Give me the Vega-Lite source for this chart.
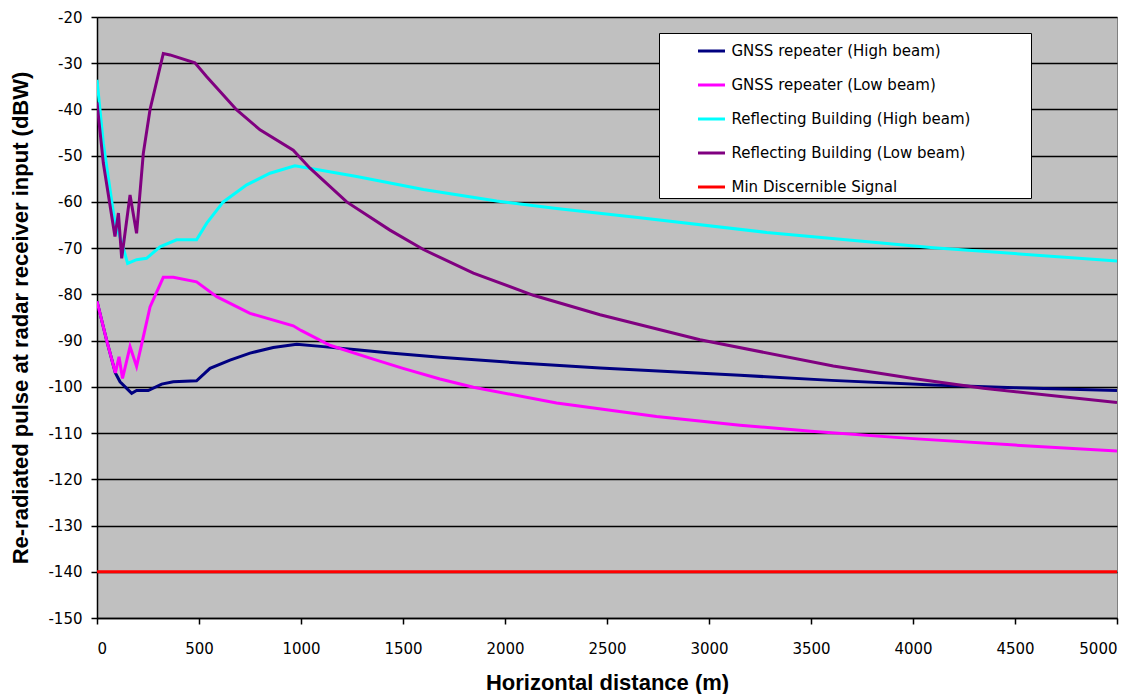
{
  "$schema": "https://vega.github.io/schema/vega-lite/v6.json",
  "autosize": {"type": "none"},
  "padding": {"left": 97, "top": 17, "right": 24, "bottom": 76},
  "width": 1020,
  "height": 601,
  "background": "white",
  "config": {
    "view": {"fill": "#C0C0C0", "stroke": "#808080", "strokeWidth": 1},
    "font": "Liberation Sans"
  },
  "datasets": {
    "curves": [
      {"s": "GNSS repeater (High beam)", "d": 0, "p": -81.5},
      {"s": "GNSS repeater (High beam)", "d": 47, "p": -89.9},
      {"s": "GNSS repeater (High beam)", "d": 90, "p": -97},
      {"s": "GNSS repeater (High beam)", "d": 113, "p": -98.9},
      {"s": "GNSS repeater (High beam)", "d": 170, "p": -101.4},
      {"s": "GNSS repeater (High beam)", "d": 194, "p": -100.8},
      {"s": "GNSS repeater (High beam)", "d": 251, "p": -100.8},
      {"s": "GNSS repeater (High beam)", "d": 317, "p": -99.4},
      {"s": "GNSS repeater (High beam)", "d": 374, "p": -98.9},
      {"s": "GNSS repeater (High beam)", "d": 488, "p": -98.7},
      {"s": "GNSS repeater (High beam)", "d": 554, "p": -96},
      {"s": "GNSS repeater (High beam)", "d": 652, "p": -94.2},
      {"s": "GNSS repeater (High beam)", "d": 750, "p": -92.7},
      {"s": "GNSS repeater (High beam)", "d": 864, "p": -91.5},
      {"s": "GNSS repeater (High beam)", "d": 979, "p": -90.8},
      {"s": "GNSS repeater (High beam)", "d": 1109, "p": -91.3},
      {"s": "GNSS repeater (High beam)", "d": 1273, "p": -92},
      {"s": "GNSS repeater (High beam)", "d": 1436, "p": -92.7},
      {"s": "GNSS repeater (High beam)", "d": 1681, "p": -93.6},
      {"s": "GNSS repeater (High beam)", "d": 2090, "p": -94.9},
      {"s": "GNSS repeater (High beam)", "d": 2466, "p": -95.9},
      {"s": "GNSS repeater (High beam)", "d": 3152, "p": -97.5},
      {"s": "GNSS repeater (High beam)", "d": 3600, "p": -98.6},
      {"s": "GNSS repeater (High beam)", "d": 4100, "p": -99.6},
      {"s": "GNSS repeater (High beam)", "d": 4500, "p": -100.2},
      {"s": "GNSS repeater (High beam)", "d": 5000, "p": -100.8},

      {"s": "GNSS repeater (Low beam)", "d": 0, "p": -81.5},
      {"s": "GNSS repeater (Low beam)", "d": 47, "p": -89.9},
      {"s": "GNSS repeater (Low beam)", "d": 90, "p": -97},
      {"s": "GNSS repeater (Low beam)", "d": 108, "p": -93.5},
      {"s": "GNSS repeater (Low beam)", "d": 125, "p": -98.2},
      {"s": "GNSS repeater (Low beam)", "d": 162, "p": -91.3},
      {"s": "GNSS repeater (Low beam)", "d": 194, "p": -95.6},
      {"s": "GNSS repeater (Low beam)", "d": 227, "p": -89.2},
      {"s": "GNSS repeater (Low beam)", "d": 260, "p": -82.7},
      {"s": "GNSS repeater (Low beam)", "d": 325, "p": -76.3},
      {"s": "GNSS repeater (Low beam)", "d": 374, "p": -76.3},
      {"s": "GNSS repeater (Low beam)", "d": 488, "p": -77.3},
      {"s": "GNSS repeater (Low beam)", "d": 587, "p": -80.5},
      {"s": "GNSS repeater (Low beam)", "d": 750, "p": -84.1},
      {"s": "GNSS repeater (Low beam)", "d": 962, "p": -86.8},
      {"s": "GNSS repeater (Low beam)", "d": 1000, "p": -87.8},
      {"s": "GNSS repeater (Low beam)", "d": 1142, "p": -91},
      {"s": "GNSS repeater (Low beam)", "d": 1354, "p": -94},
      {"s": "GNSS repeater (Low beam)", "d": 1500, "p": -96},
      {"s": "GNSS repeater (Low beam)", "d": 1681, "p": -98.3},
      {"s": "GNSS repeater (Low beam)", "d": 1845, "p": -100.1},
      {"s": "GNSS repeater (Low beam)", "d": 2253, "p": -103.5},
      {"s": "GNSS repeater (Low beam)", "d": 2743, "p": -106.4},
      {"s": "GNSS repeater (Low beam)", "d": 3152, "p": -108.3},
      {"s": "GNSS repeater (Low beam)", "d": 3500, "p": -109.6},
      {"s": "GNSS repeater (Low beam)", "d": 4000, "p": -111.2},
      {"s": "GNSS repeater (Low beam)", "d": 4500, "p": -112.6},
      {"s": "GNSS repeater (Low beam)", "d": 5000, "p": -113.9},

      {"s": "Reflecting Building (High beam)", "d": 0, "p": -33.6},
      {"s": "Reflecting Building (High beam)", "d": 31, "p": -47.3},
      {"s": "Reflecting Building (High beam)", "d": 88, "p": -64.6},
      {"s": "Reflecting Building (High beam)", "d": 120, "p": -68.5},
      {"s": "Reflecting Building (High beam)", "d": 150, "p": -73.3},
      {"s": "Reflecting Building (High beam)", "d": 194, "p": -72.5},
      {"s": "Reflecting Building (High beam)", "d": 243, "p": -72.2},
      {"s": "Reflecting Building (High beam)", "d": 309, "p": -69.7},
      {"s": "Reflecting Building (High beam)", "d": 390, "p": -68.2},
      {"s": "Reflecting Building (High beam)", "d": 488, "p": -68.2},
      {"s": "Reflecting Building (High beam)", "d": 538, "p": -64.6},
      {"s": "Reflecting Building (High beam)", "d": 619, "p": -60},
      {"s": "Reflecting Building (High beam)", "d": 734, "p": -56.3},
      {"s": "Reflecting Building (High beam)", "d": 848, "p": -53.8},
      {"s": "Reflecting Building (High beam)", "d": 970, "p": -52.2},
      {"s": "Reflecting Building (High beam)", "d": 1077, "p": -53},
      {"s": "Reflecting Building (High beam)", "d": 1273, "p": -54.5},
      {"s": "Reflecting Building (High beam)", "d": 1600, "p": -57.3},
      {"s": "Reflecting Building (High beam)", "d": 1959, "p": -59.8},
      {"s": "Reflecting Building (High beam)", "d": 2253, "p": -61.4},
      {"s": "Reflecting Building (High beam)", "d": 2662, "p": -63.4},
      {"s": "Reflecting Building (High beam)", "d": 3283, "p": -66.6},
      {"s": "Reflecting Building (High beam)", "d": 4100, "p": -69.9},
      {"s": "Reflecting Building (High beam)", "d": 5000, "p": -72.8},

      {"s": "Reflecting Building (Low beam)", "d": 0, "p": -38.5},
      {"s": "Reflecting Building (Low beam)", "d": 31, "p": -51.6},
      {"s": "Reflecting Building (Low beam)", "d": 88, "p": -67.5},
      {"s": "Reflecting Building (Low beam)", "d": 105, "p": -62.4},
      {"s": "Reflecting Building (Low beam)", "d": 121, "p": -72.2},
      {"s": "Reflecting Building (Low beam)", "d": 162, "p": -58.5},
      {"s": "Reflecting Building (Low beam)", "d": 194, "p": -66.8},
      {"s": "Reflecting Building (Low beam)", "d": 227, "p": -49.5},
      {"s": "Reflecting Building (Low beam)", "d": 260, "p": -40},
      {"s": "Reflecting Building (Low beam)", "d": 325, "p": -27.9},
      {"s": "Reflecting Building (Low beam)", "d": 358, "p": -28.2},
      {"s": "Reflecting Building (Low beam)", "d": 480, "p": -29.9},
      {"s": "Reflecting Building (Low beam)", "d": 538, "p": -32.9},
      {"s": "Reflecting Building (Low beam)", "d": 685, "p": -40.1},
      {"s": "Reflecting Building (Low beam)", "d": 799, "p": -44.4},
      {"s": "Reflecting Building (Low beam)", "d": 962, "p": -48.8},
      {"s": "Reflecting Building (Low beam)", "d": 1044, "p": -52.7},
      {"s": "Reflecting Building (Low beam)", "d": 1224, "p": -60},
      {"s": "Reflecting Building (Low beam)", "d": 1436, "p": -66.1},
      {"s": "Reflecting Building (Low beam)", "d": 1600, "p": -70.3},
      {"s": "Reflecting Building (Low beam)", "d": 1845, "p": -75.4},
      {"s": "Reflecting Building (Low beam)", "d": 2139, "p": -80.2},
      {"s": "Reflecting Building (Low beam)", "d": 2466, "p": -84.4},
      {"s": "Reflecting Building (Low beam)", "d": 2956, "p": -89.8},
      {"s": "Reflecting Building (Low beam)", "d": 3609, "p": -95.5},
      {"s": "Reflecting Building (Low beam)", "d": 4000, "p": -98.2},
      {"s": "Reflecting Building (Low beam)", "d": 4345, "p": -100.3},
      {"s": "Reflecting Building (Low beam)", "d": 5000, "p": -103.4},

      {"s": "Min Discernible Signal", "d": 0, "p": -140},
      {"s": "Min Discernible Signal", "d": 5000, "p": -140}
    ]
  },
  "data": {"name": "curves"},
  "mark": {"type": "line", "strokeWidth": 3, "interpolate": "linear", "clip": true},
  "encoding": {
    "x": {
      "field": "d", "type": "quantitative",
      "scale": {"domain": [0, 5000], "nice": false, "zero": false},
      "axis": {
        "title": "Horizontal distance (m)",
        "values": [0, 500, 1000, 1500, 2000, 2500, 3000, 3500, 4000, 4500, 5000],
        "labelExpr": "'' + datum.value",
        "grid": false,
        "domainColor": "black", "domainWidth": 1.5,
        "tickColor": "black", "tickSize": 6, "tickWidth": 1.5,
        "labelFont": "DejaVu Sans", "labelFontSize": 15, "labelColor": "black",
        "labelPadding": 17,
        "titleFont": "Liberation Sans", "titleFontSize": 22, "titleFontWeight": "bold", "titleColor": "black",
        "titlePadding": 16
      }
    },
    "y": {
      "field": "p", "type": "quantitative",
      "scale": {"domain": [-150, -20], "nice": false, "zero": false},
      "axis": {
        "title": "Re-radiated pulse at radar receiver input (dBW)",
        "values": [-150, -140, -130, -120, -110, -100, -90, -80, -70, -60, -50, -40, -30, -20],
        "labelExpr": "'' + datum.value",
        "grid": true, "gridColor": "black", "gridWidth": 1.5, "gridOpacity": 1,
        "domainColor": "black", "domainWidth": 1.5,
        "tickColor": "black", "tickSize": 6, "tickWidth": 1.5,
        "labelFont": "DejaVu Sans", "labelFontSize": 15, "labelColor": "black",
        "labelPadding": 9,
        "titleFont": "Liberation Sans", "titleFontSize": 22, "titleFontWeight": "bold", "titleColor": "black",
        "titlePadding": 15
      }
    },
    "color": {
      "field": "s", "type": "nominal",
      "scale": {
        "domain": ["GNSS repeater (High beam)", "GNSS repeater (Low beam)", "Reflecting Building (High beam)", "Reflecting Building (Low beam)", "Min Discernible Signal"],
        "range": ["#000080", "#FF00FF", "#00FFFF", "#800080", "#FF0000"]
      },
      "legend": {
        "title": " ",
        "titleOrient": "right",
        "titlePadding": 58,
        "titleFontSize": 10,
        "orient": "none",
        "legendX": 562,
        "legendY": 16,
        "fillColor": "white",
        "strokeColor": "black",
        "padding": 3,
        "symbolType": "stroke",
        "symbolSize": 729,
        "symbolStrokeWidth": 3,
        "symbolOffset": 34.5,
        "labelOffset": 5,
        "labelFont": "DejaVu Sans",
        "labelFontSize": 15,
        "labelColor": "black",
        "labelLimit": 400,
        "rowPadding": 11
      }
    },
    "order": {"field": "d", "type": "quantitative"}
  }
}
